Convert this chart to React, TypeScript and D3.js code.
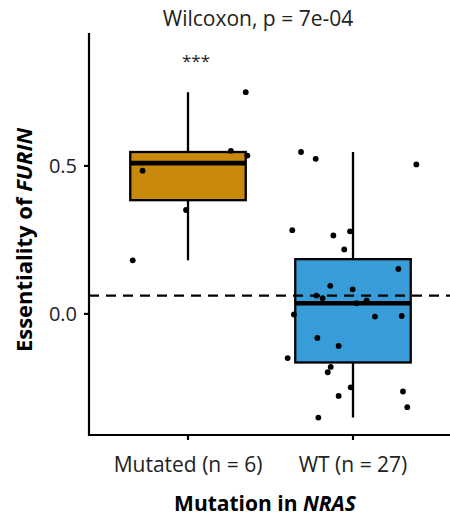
import React from "react";
import * as d3 from "d3";

const categories = ["Mutated (n = 6)", "WT (n = 27)"];
const boxColors = ["#C98A0C", "#379CD8"];

// essentiality values per group
const mutatedValues = [0.749, 0.551, 0.535, 0.484, 0.351, 0.181];
const mutatedJitter = [0.35, 0.26, 0.36, -0.275, -0.012, -0.335];

const wtValues = [
  0.547, 0.524, 0.505, 0.283, 0.265, 0.279, 0.218, 0.152, 0.095, 0.083, 0.062, 0.053, 0.046,
  0.036, -0.002, -0.009, -0.007, -0.081, -0.108, -0.149, -0.179, -0.197, -0.248, -0.277,
  -0.262, -0.315, -0.35,
];
const wtJitter = [
  -0.315, -0.226, 0.384, -0.368, -0.119, -0.018, -0.053, 0.275, -0.138, -0.002, -0.222, -0.184,
  0.083, 0.022, -0.358, 0.133, 0.295, -0.216, -0.087, -0.396, -0.135, -0.153, -0.014, -0.087,
  0.303, 0.329, -0.21,
];

const yTicks = [0.0, 0.5];
const referenceLine = 0.062;
const titleText = "Wilcoxon, p = 7e-04";
const sigLabel = "***";

const W = 450;
const H = 517;
const left = 89;
const right = 452;
const top = 33;
const bottom = 435;

const FONT = "'Open Sans', sans-serif";

function boxStats(vals: number[]) {
  const s = [...vals].sort((a, b) => a - b);
  const q1 = d3.quantile(s, 0.25)!;
  const med = d3.quantile(s, 0.5)!;
  const q3 = d3.quantile(s, 0.75)!;
  const iqr = q3 - q1;
  const lo = d3.min(s.filter((v) => v >= q1 - 1.5 * iqr))!;
  const hi = d3.max(s.filter((v) => v <= q3 + 1.5 * iqr))!;
  return { q1, med, q3, lo, hi };
}

export default function App() {
  const x = d3.scalePoint<string>().domain(categories).range([left, right]).padding(0.6);
  const step = x.step();
  const y = d3.scaleLinear().domain([-0.409, 0.949]).range([bottom, top]);
  const groups = [
    { name: categories[0], values: mutatedValues, jitter: mutatedJitter, color: boxColors[0] },
    { name: categories[1], values: wtValues, jitter: wtJitter, color: boxColors[1] },
  ];
  const boxW = step * 0.7;

  return (
    <svg width={W} height={H} style={{ position: "absolute", left: 0, top: 0, background: "#fff" }}>
      <defs>
        <clipPath id="panel">
          <rect x={left} y={0} width={W - left} height={bottom + 1} />
        </clipPath>
      </defs>
      <text x={258} y={26} textAnchor="middle" fontFamily={FONT} fontSize={21} fill="#222">
        {titleText}
      </text>
      <g clipPath="url(#panel)">
        {groups.map((g) => {
          const st = boxStats(g.values);
          const cx = x(g.name)!;
          return (
            <g key={g.name}>
              <line x1={cx} x2={cx} y1={y(st.hi)} y2={y(st.q3)} stroke="#000" strokeWidth={2.3} />
              <line x1={cx} x2={cx} y1={y(st.q1)} y2={y(st.lo)} stroke="#000" strokeWidth={2.3} />
              <rect
                x={cx - boxW / 2}
                y={y(st.q3)}
                width={boxW}
                height={y(st.q1) - y(st.q3)}
                fill={g.color}
                stroke="#000"
                strokeWidth={2.3}
              />
              <line
                x1={cx - boxW / 2}
                x2={cx + boxW / 2}
                y1={y(st.med)}
                y2={y(st.med)}
                stroke="#000"
                strokeWidth={4.6}
              />
            </g>
          );
        })}
        {groups.map((g) =>
          g.values.map((v, i) => (
            <circle key={g.name + i} cx={x(g.name)! + g.jitter[i] * step} cy={y(v)} r={2.9} fill="#000" />
          ))
        )}
        <line
          x1={left}
          x2={W}
          y1={y(referenceLine)}
          y2={y(referenceLine)}
          stroke="#000"
          strokeWidth={2.3}
          strokeDasharray="10,7"
        />
      </g>
      <text x={196} y={67} textAnchor="middle" fontFamily={FONT} fontSize={17} fill="#222">
        {sigLabel}
      </text>
      {/* axes */}
      <line x1={left} x2={left} y1={top} y2={bottom + 1} stroke="#000" strokeWidth={2.2} />
      <line x1={left - 1} x2={W} y1={bottom} y2={bottom} stroke="#000" strokeWidth={2.2} />
      {yTicks.map((t) => (
        <g key={t}>
          <line x1={left - 5} x2={left} y1={y(t)} y2={y(t)} stroke="#000" strokeWidth={2.2} />
          <text
            x={left - 12}
            y={y(t)}
            dy="0.36em"
            textAnchor="end"
            fontFamily={FONT}
            fontSize={20}
            fill="#222"
          >
            {d3.format(".1f")(t)}
          </text>
        </g>
      ))}
      {categories.map((c) => (
        <g key={c}>
          <line x1={x(c)!} x2={x(c)!} y1={bottom} y2={bottom + 5} stroke="#000" strokeWidth={2.2} />
          <text x={x(c)!} y={472} textAnchor="middle" fontFamily={FONT} fontSize={21} fill="#222">
            {c}
          </text>
        </g>
      ))}
      <text x={265} y={511} textAnchor="middle" fontFamily={FONT} fontSize={21} fontWeight="bold" fill="#000">
        Mutation in <tspan fontStyle="italic">NRAS</tspan>
      </text>
      <text
        transform="translate(32,240) rotate(-90)"
        textAnchor="middle"
        fontFamily={FONT}
        fontSize={22}
        fontWeight="bold"
        fill="#000"
      >
        Essentiality of <tspan fontStyle="italic">FURIN</tspan>
      </text>
    </svg>
  );
}
